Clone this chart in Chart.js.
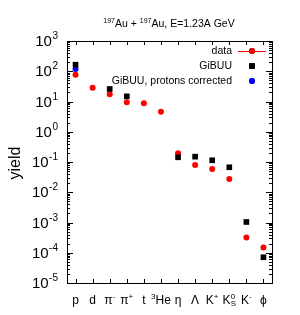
<!DOCTYPE html>
<html>
<head>
<meta charset="utf-8">
<script src="https://cdn.jsdelivr.net/npm/chart.js@4"></script>
<style>
  body { margin: 0; background: #fff; }
</style>
</head>
<body>
<canvas id="yieldChart" width="300" height="315"></canvas>
<script>
// categorias (^ = expoente, _ = indice)
var categories = ['p', 'd', 'π^-', 'π^+', 't', '^3He', 'η', 'Λ', 'K^+', 'K^0_S', 'K^-', 'ϕ'];
var dataYield = [77, 28.6, 17.3, 9.4, 8.7, 4.6, 0.194, 0.080, 0.059, 0.0274, 3.2e-4, 1.5e-4];
var gibuuYield = [165, null, 25.9, 14.8, null, null, 0.143, 0.15, 0.114, 0.067, 1.04e-3, 7.1e-5];
var gibuuCorrected = [119, null, null, null, null, null, null, null, null, null, null, null];
var yExponents = [-5, -4, -3, -2, -1, 0, 1, 2, 3];
var titleText = '^{197}Au + ^{197}Au, E=1.23A GeV';
var FONT = 'Liberation Sans, Arial, sans-serif';

// quebra um texto em pedacos normais / sup / sub
function parseParts(s) {
    var parts = [];
    var i = 0;
    while (i < s.length) {
        var c = s[i];
        if (c === '^' || c === '_') {
            var txt;
            if (s[i + 1] === '{') {
                var j = s.indexOf('}', i);
                txt = s.substring(i + 2, j);
                i = j + 1;
            } else {
                txt = s[i + 1];
                i += 2;
            }
            parts.push({ t: txt, kind: c === '^' ? 'sup' : 'sub' });
        } else {
            var last = parts[parts.length - 1];
            if (last && last.kind === 'n') last.t += c;
            else parts.push({ t: c, kind: 'n' });
            i++;
        }
    }
    return parts;
}

function drawRich(ctx, s, x, y, size, align) {
    var parts = parseParts(s);
    var small = Math.round(size * 0.7);
    // medir
    var total = 0, widths = [];
    for (var k = 0; k < parts.length; k++) {
        ctx.font = (parts[k].kind === 'n' ? size : small) + 'px ' + FONT;
        widths[k] = ctx.measureText(parts[k].t).width;
    }
    for (k = 0; k < parts.length; k++) {
        // sup seguido de sub fica empilhado
        if (parts[k].kind === 'sup' && parts[k + 1] && parts[k + 1].kind === 'sub') continue;
        if (parts[k].kind === 'sub' && parts[k - 1] && parts[k - 1].kind === 'sup') {
            total += Math.max(widths[k], widths[k - 1]);
            continue;
        }
        total += widths[k];
    }
    var cx = align === 'center' ? x - total / 2 : (align === 'right' ? x - total : x);
    ctx.textAlign = 'left';
    ctx.textBaseline = 'alphabetic';
    for (k = 0; k < parts.length; k++) {
        var p = parts[k];
        if (p.kind === 'n') {
            ctx.font = size + 'px ' + FONT;
            ctx.fillText(p.t, cx, y);
            cx += widths[k];
        } else if (p.kind === 'sup') {
            ctx.font = small + 'px ' + FONT;
            ctx.fillText(p.t, cx, y - size * 0.42);
            if (!(parts[k + 1] && parts[k + 1].kind === 'sub')) cx += widths[k];
        } else {
            ctx.font = small + 'px ' + FONT;
            ctx.fillText(p.t, cx, y + size * 0.2);
            var w = widths[k];
            if (parts[k - 1] && parts[k - 1].kind === 'sup') w = Math.max(w, widths[k - 1]);
            cx += w;
        }
    }
}

var framePlugin = {
    id: 'frame',
    afterDraw: function (chart) {
        var ctx = chart.ctx;
        var a = chart.chartArea;
        var xs = chart.scales.x, ys = chart.scales.y;
        ctx.save();
        ctx.strokeStyle = '#000';
        ctx.fillStyle = '#000';
        ctx.lineWidth = 1;

        // ticks do eixo y (log)
        ctx.beginPath();
        for (var e = -5; e <= 3; e++) {
            var py = Math.round(ys.getPixelForValue(Math.pow(10, e))) + 0.5;
            ctx.moveTo(a.left, py); ctx.lineTo(a.left + 6, py);
            ctx.moveTo(a.right, py); ctx.lineTo(a.right - 6, py);
            if (e < 3) {
                for (var m = 2; m <= 9; m++) {
                    var pm = Math.round(ys.getPixelForValue(m * Math.pow(10, e))) + 0.5;
                    ctx.moveTo(a.left, pm); ctx.lineTo(a.left + 3, pm);
                    ctx.moveTo(a.right, pm); ctx.lineTo(a.right - 3, pm);
                }
            }
        }
        // ticks do eixo x
        for (var i = 0; i < categories.length; i++) {
            var px = Math.round(xs.getPixelForValue(i)) + 0.5;
            ctx.moveTo(px, a.bottom); ctx.lineTo(px, a.bottom - 4);
            ctx.moveTo(px, a.top); ctx.lineTo(px, a.top + 4);
        }
        ctx.stroke();

        // moldura
        ctx.strokeRect(Math.round(a.left) + 0.5, Math.round(a.top) + 0.5,
            Math.round(a.right - a.left), Math.round(a.bottom - a.top));

        // rotulos y: 10^n
        for (var k = 0; k < yExponents.length; k++) {
            var ex = yExponents[k];
            var ty = ys.getPixelForValue(Math.pow(10, ex));
            ctx.font = '10px ' + FONT;
            ctx.textAlign = 'right';
            ctx.textBaseline = 'alphabetic';
            var expStr = String(ex);
            var ew = ctx.measureText(expStr).width;
            ctx.fillText(expStr, 58, ty - 2);
            ctx.font = '15px ' + FONT;
            ctx.textBaseline = 'middle';
            ctx.fillText('10', 58 - ew - 0.5, ty + 1);
        }

        // rotulos x
        for (i = 0; i < categories.length; i++) {
            drawRich(ctx, categories[i], xs.getPixelForValue(i), 304, 12, 'center');
        }

        // titulo
        drawRich(ctx, titleText, 169, 27, 10.5, 'center');

        // titulo do eixo y
        ctx.save();
        ctx.translate(20, 163);
        ctx.rotate(-Math.PI / 2);
        ctx.font = '16px ' + FONT;
        ctx.textAlign = 'center';
        ctx.textBaseline = 'alphabetic';
        ctx.fillText('yield', 0, 0);
        ctx.restore();

        // legenda
        var rows = [
            { label: 'data', ds: 0, y: 51, line: true },
            { label: 'GiBUU', ds: 1, y: 66, line: false },
            { label: 'GiBUU, protons corrected', ds: 2, y: 81, line: false }
        ];
        ctx.font = '10.5px ' + FONT;
        ctx.textAlign = 'right';
        ctx.textBaseline = 'middle';
        rows.forEach(function (r) {
            var ds = chart.data.datasets[r.ds];
            ctx.fillStyle = '#000';
            ctx.fillText(r.label, 232, r.y + 0.5);
            if (r.line) {
                ctx.strokeStyle = ds.borderColor;
                ctx.beginPath();
                ctx.moveTo(238, r.y + 0.5); ctx.lineTo(266, r.y + 0.5);
                ctx.stroke();
            }
            Chart.helpers.drawPoint(ctx, {
                pointStyle: ds.pointStyle, radius: ds.pointRadius, borderWidth: 0
            }, 252, r.y);
            ctx.fillStyle = ds.backgroundColor;
            ctx.fill();
        });
        ctx.restore();
    }
};

var ctx = document.getElementById('yieldChart').getContext('2d');
var chart = new Chart(ctx, {
    type: 'line',
    data: {
        labels: categories,
        datasets: [{
            label: 'data',
            data: dataYield,
            showLine: false,
            pointStyle: 'circle',
            pointRadius: 3,
            backgroundColor: '#ff0000',
            borderColor: '#ff0000',
            pointBorderWidth: 0,
            order: 2
        }, {
            label: 'GiBUU',
            data: gibuuYield,
            showLine: false,
            pointStyle: 'rect',
            pointRadius: 4,
            backgroundColor: '#000000',
            borderColor: '#000000',
            pointBorderWidth: 0,
            order: 1
        }, {
            label: 'GiBUU, protons corrected',
            data: gibuuCorrected,
            showLine: false,
            pointStyle: 'circle',
            pointRadius: 3,
            backgroundColor: '#0000ff',
            borderColor: '#0000ff',
            pointBorderWidth: 0,
            order: 3
        }]
    },
    options: {
        responsive: false,
        animation: false,
        layout: { padding: { left: 67, right: 28, top: 41, bottom: 32 } },
        plugins: { legend: { display: false }, tooltip: { enabled: false } },
        scales: {
            x: { type: 'category', offset: true, display: false },
            y: { type: 'logarithmic', min: 1e-5, max: 1e3, display: false }
        }
    },
    plugins: [framePlugin]
});
</script>
</body>
</html>
